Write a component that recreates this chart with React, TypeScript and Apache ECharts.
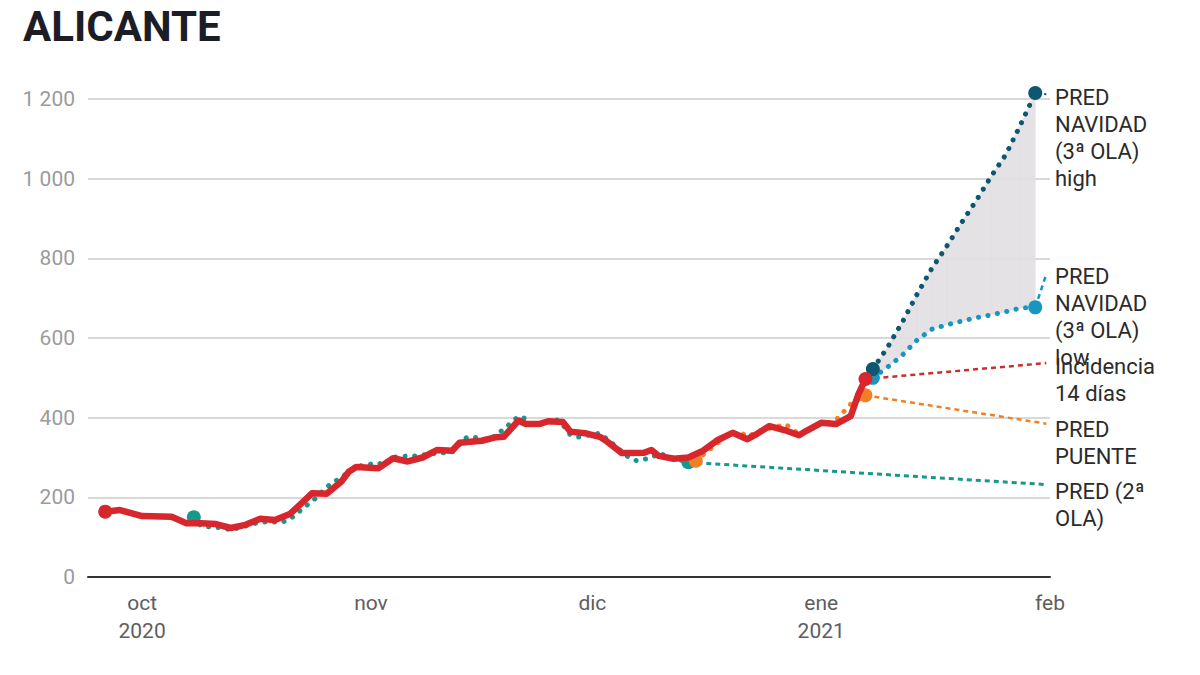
import React, { useEffect, useRef } from "react";
import * as echarts from "echarts";

const title = "ALICANTE";
const yTicks = [0, 200, 400, 600, 800, 1000, 1200];
const monthTicks = ["2020-10-01", "2020-11-01", "2020-12-01", "2021-01-01", "2021-02-01"];
const monthLabels = ["oct\n2020", "nov", "dic", "ene\n2021", "feb"];

// Incidencia 14 días (observed)
const incidencia: [string, number][] = [
  ["2020-09-26", 164], ["2020-09-28", 168], ["2020-10-01", 153], ["2020-10-05", 151],
  ["2020-10-07", 135], ["2020-10-09", 135], ["2020-10-11", 133], ["2020-10-13", 123],
  ["2020-10-15", 131], ["2020-10-17", 146], ["2020-10-19", 143], ["2020-10-21", 158],
  ["2020-10-22", 175], ["2020-10-24", 210], ["2020-10-26", 209], ["2020-10-28", 240],
  ["2020-10-29", 264], ["2020-10-30", 276], ["2020-11-02", 273], ["2020-11-04", 298],
  ["2020-11-06", 290], ["2020-11-08", 300], ["2020-11-10", 319], ["2020-11-12", 317],
  ["2020-11-13", 337], ["2020-11-16", 342], ["2020-11-18", 351], ["2020-11-19", 352],
  ["2020-11-21", 393], ["2020-11-22", 384], ["2020-11-24", 385], ["2020-11-25", 391],
  ["2020-11-27", 389], ["2020-11-28", 365], ["2020-11-30", 361], ["2020-12-02", 352],
  ["2020-12-03", 340], ["2020-12-05", 311], ["2020-12-08", 312], ["2020-12-09", 319],
  ["2020-12-10", 304], ["2020-12-12", 297], ["2020-12-14", 300], ["2020-12-16", 317],
  ["2020-12-18", 344], ["2020-12-20", 362], ["2020-12-22", 346], ["2020-12-23", 356],
  ["2020-12-25", 379], ["2020-12-27", 369], ["2020-12-29", 356], ["2020-12-30", 367],
  ["2021-01-01", 387], ["2021-01-03", 384], ["2021-01-05", 404], ["2021-01-06", 457],
  ["2021-01-07", 497],
];

// PRED (2ª OLA)
const predOla2: [string, number][] = [
  ["2020-10-08", 150], ["2020-10-09", 127], ["2020-10-10", 126], ["2020-10-12", 123],
  ["2020-10-13", 118], ["2020-10-15", 128], ["2020-10-17", 138], ["2020-10-20", 138],
  ["2020-10-21", 145], ["2020-10-22", 160], ["2020-10-23", 176], ["2020-10-24", 189],
  ["2020-10-26", 226], ["2020-10-30", 276], ["2020-10-31", 281], ["2020-11-02", 286],
  ["2020-11-03", 281], ["2020-11-04", 301], ["2020-11-06", 304], ["2020-11-07", 304],
  ["2020-11-09", 309], ["2020-11-12", 314], ["2020-11-14", 351], ["2020-11-15", 351],
  ["2020-11-17", 344], ["2020-11-19", 371], ["2020-11-21", 404], ["2020-11-22", 397],
  ["2020-11-23", 377], ["2020-11-26", 397], ["2020-11-27", 382], ["2020-11-28", 357],
  ["2020-11-29", 351], ["2020-12-02", 361], ["2020-12-03", 346], ["2020-12-04", 331],
  ["2020-12-06", 299], ["2020-12-07", 292], ["2020-12-09", 299], ["2020-12-10", 311],
  ["2020-12-11", 304], ["2020-12-14", 288],
];

// PRED PUENTE
const predPuente: [string, number][] = [
  ["2020-12-15", 292], ["2020-12-17", 322], ["2020-12-19", 352], ["2020-12-21", 364],
  ["2020-12-22", 352], ["2020-12-24", 370], ["2020-12-26", 377], ["2020-12-27", 384],
  ["2020-12-28", 374], ["2020-12-29", 357], ["2020-12-31", 375], ["2021-01-01", 389],
  ["2021-01-02", 387], ["2021-01-03", 394], ["2021-01-04", 414], ["2021-01-05", 434],
  ["2021-01-07", 456],
];

// PRED NAVIDAD (3ª OLA) – low / high
const navidadDates = [
  "2021-01-08", "2021-01-10", "2021-01-12", "2021-01-14", "2021-01-16", "2021-01-18",
  "2021-01-20", "2021-01-22", "2021-01-24", "2021-01-26", "2021-01-28", "2021-01-30",
];
const navidadLow = [500, 527, 557, 595, 622, 633, 642, 651, 658, 666, 675, 677];
const navidadHigh = [522, 577, 640, 710, 775, 830, 889, 945, 1005, 1060, 1135, 1215];

// label anchor values (where the thin connectors end)
const labelDate = "2021-01-31T12:00:00";
const labelTargets = { incidencia: 537, puente: 385, ola2: 232, low: 760, high: 1212 };

const labelTexts = [
  { text: "PRED\nNAVIDAD\n(3ª OLA)\nhigh", y: 84 },
  { text: "PRED\nNAVIDAD\n(3ª OLA)\nlow", y: 263 },
  { text: "Incidencia\n14 días", y: 353 },
  { text: "PRED\nPUENTE", y: 416 },
  { text: "PRED (2ª\nOLA)", y: 478 },
];

const C = {
  red: "#d8262d",
  redThin: "#c8302a",
  teal: "#16998c",
  orange: "#f07f26",
  light: "#1895c0",
  dark: "#0d5770",
  area: "#e2dfe2",
  text: "#2b2b2b",
};

const ts = (s: string) => new Date(s.length <= 10 ? s + "T00:00:00Z" : s + "Z").getTime();
const pts = (arr: [string, number][]) => arr.map(([d, v]) => [ts(d), v]);

export default function App() {
  const ref = useRef<HTMLDivElement>(null);
  useEffect(() => {
    if (!ref.current) return;
    const chart = echarts.init(ref.current, undefined, { renderer: "svg" });
    const font = "Roboto, 'Noto Sans', sans-serif";
    const endDots = (n: number, size: number) => (_v: any, p: any) =>
      p.dataIndex === 0 || p.dataIndex === n - 1 ? size : 0;
    const dotted = (color: string) => ({
      color,
      width: 5,
      type: [0.1, 9.5] as any,
      cap: "round" as any,
    });
    const connector = (from: number[], to: number, color: string, width = 2.5) => ({
      type: "line",
      data: [from, [ts(labelDate), to]],
      symbol: "none",
      silent: true,
      clip: false,
      lineStyle: { color, width, type: [5, 4] as any },
      z: 2,
    });
    const ola2 = pts(predOla2);
    const puente = pts(predPuente);
    const inc = pts(incidencia);
    const low = navidadDates.map((d, i) => [ts(d), navidadLow[i]]);
    const high = navidadDates.map((d, i) => [ts(d), navidadHigh[i]]);
    const band = navidadDates.map((d, i) => [ts(d), navidadLow[i], navidadHigh[i]]);
    const tickTs = monthTicks.map(ts);

    chart.setOption({
      animation: false,
      title: {
        text: title,
        left: 18,
        top: 0,
        textStyle: { fontFamily: font, fontSize: 42, fontWeight: "bold", color: "#1d1d26" },
      },
      grid: { left: 88, right: 150, top: 99, bottom: 98 },
      xAxis: {
        type: "value",
        min: ts("2020-09-23T16:00:00"),
        max: ts("2021-02-01"),
        axisLine: { show: true, onZero: false, lineStyle: { color: "#333", width: 2 } },
        axisTick: { show: false },
        splitLine: { show: false },
        axisLabel: {
          customValues: tickTs,
          formatter: (v: number) => {
            const i = tickTs.indexOf(v);
            return i >= 0 ? monthLabels[i] : "";
          },
          color: "#5e5e5e",
          fontFamily: font,
          fontSize: 21,
          lineHeight: 28,
          margin: 12,
        },
      },
      yAxis: {
        type: "value",
        min: yTicks[0],
        max: yTicks[yTicks.length - 1],
        interval: 200,
        axisLine: { show: false },
        axisTick: { show: false },
        splitLine: { lineStyle: { color: "#cccccc", width: 1.5 } },
        axisLabel: {
          color: "#9b9b9b",
          fontFamily: font,
          fontSize: 21,
          margin: 13,
          formatter: (v: number) =>
            v >= 1000 ? `${Math.floor(v / 1000)} ${String(v % 1000).padStart(3, "0")}` : String(v),
        },
      },
      series: [
        {
          type: "custom",
          data: band,
          silent: true,
          clip: false,
          z: 1,
          encode: { x: 0, y: [1, 2] },
          renderItem: (params: any, api: any) => {
            const i = params.dataIndex;
            if (i === 0) return null;
            const p = band[i - 1];
            const c = band[i];
            const pts2 = [
              api.coord([p[0], p[1]]),
              api.coord([c[0], c[1]]),
              api.coord([c[0], c[2]]),
              api.coord([p[0], p[2]]),
            ];
            return {
              type: "polygon",
              shape: { points: pts2 },
              style: { fill: C.area, stroke: C.area, lineWidth: 0.6, opacity: 0.92 },
            };
          },
        },
        connector(ola2[ola2.length - 1], labelTargets.ola2, C.teal, 3),
        {
          type: "line",
          data: ola2,
          symbol: "circle",
          symbolSize: endDots(ola2.length, 14),
          itemStyle: { color: C.teal },
          lineStyle: dotted(C.teal),
          z: 3,
        },
        connector(puente[puente.length - 1], labelTargets.puente, C.orange),
        {
          type: "line",
          data: puente,
          symbol: "circle",
          symbolSize: endDots(puente.length, 14),
          itemStyle: { color: C.orange },
          lineStyle: dotted(C.orange),
          z: 3,
        },
        connector(inc[inc.length - 1], labelTargets.incidencia, C.redThin),
        connector(low[low.length - 1], labelTargets.low, C.light),
        connector(high[high.length - 1], labelTargets.high, C.dark, 2),
        {
          type: "line",
          data: low,
          symbol: "circle",
          symbolSize: endDots(low.length, 14),
          itemStyle: { color: C.light },
          lineStyle: dotted(C.light),
          z: 4,
        },
        {
          type: "line",
          data: high,
          clip: false,
          symbol: "circle",
          symbolSize: endDots(high.length, 14),
          itemStyle: { color: C.dark },
          lineStyle: dotted(C.dark),
          z: 4,
        },
        {
          type: "line",
          data: inc,
          symbol: "circle",
          symbolSize: endDots(inc.length, 14),
          itemStyle: { color: C.red },
          lineStyle: { color: C.red, width: 6.5, join: "round" as any },
          z: 5,
        },
      ],
      graphic: labelTexts.map((l) => ({
        type: "text",
        left: 1055,
        top: l.y,
        silent: true,
        style: {
          text: l.text,
          fill: C.text,
          font: `22px ${font}`,
          lineHeight: 27,
        },
      })),
    });
    return () => chart.dispose();
  }, []);
  return (
    <div
      ref={ref}
      style={{ position: "absolute", left: 0, top: 0, width: 1200, height: 675, background: "#fff" }}
    />
  );
}
